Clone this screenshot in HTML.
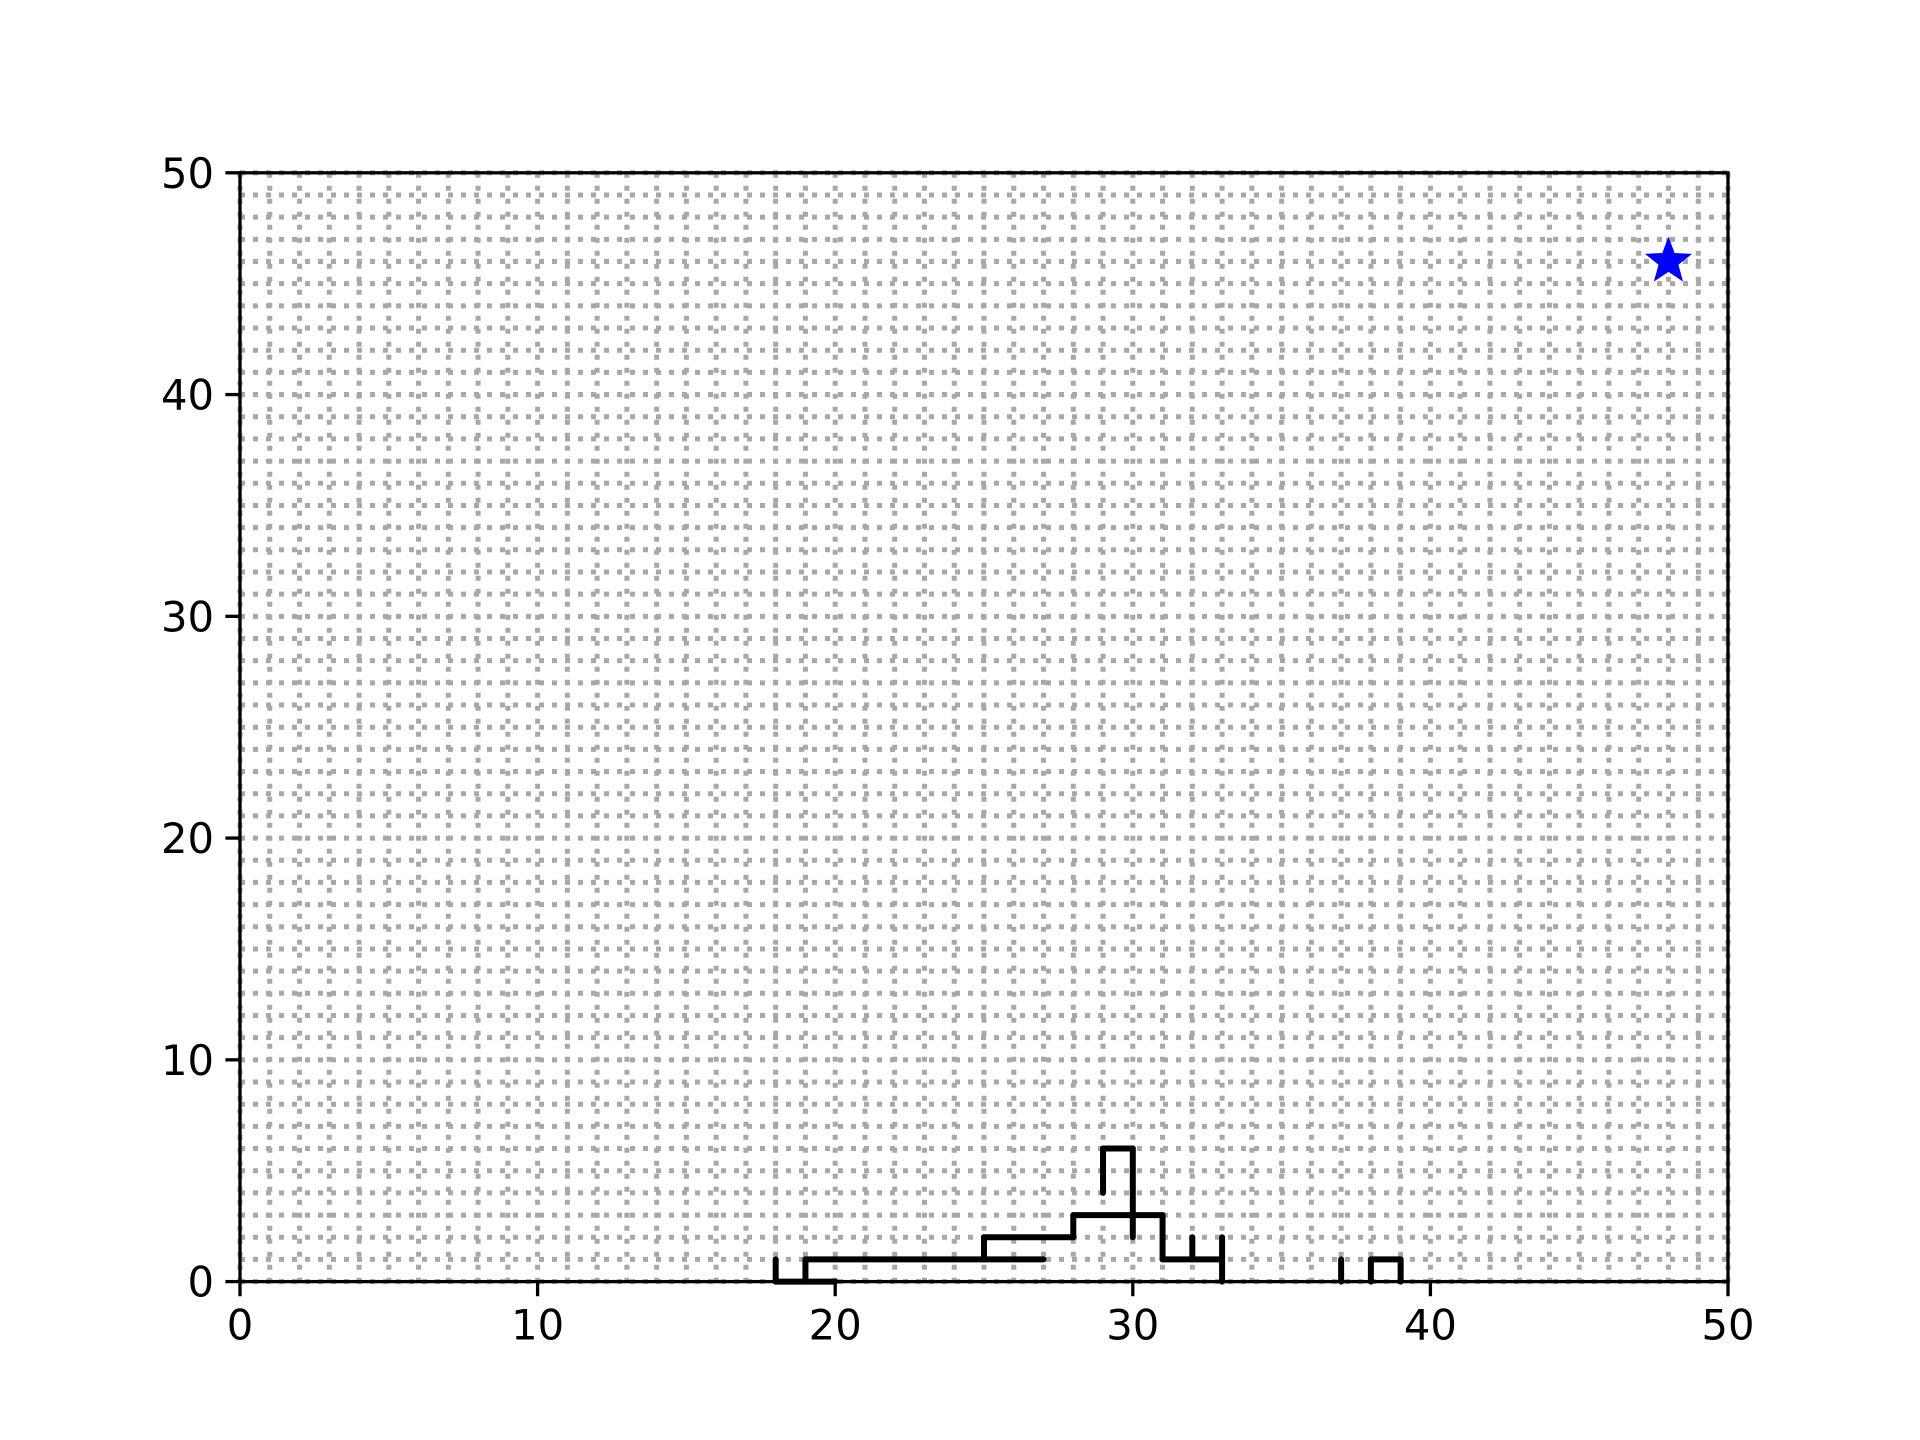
<!DOCTYPE html>
<html><head><meta charset="utf-8"><style>body{margin:0;background:#fff}svg{display:block}</style></head>
<body>
<svg id="chart" width="1920" height="1440" xmlns="http://www.w3.org/2000/svg" font-family="'DejaVu Sans','Liberation Sans',sans-serif"></svg>
<script>
const xTicks=[0,10,20,30,40,50];
const yTicks=[0,10,20,30,40,50];
const wallX1=[18,19,19,18,25,25,28,28,29,29,30,31,31,32,33,37,38,38,39];
const wallY1=[0,0,1,0,1,2,2,3,4,6,2,1,1,1,0,0,0,1,0];
const wallX2=[18,19,27,20,25,28,28,31,29,30,30,31,33,32,33,37,38,39,39];
const wallY2=[1,1,1,0,2,2,3,3,6,6,6,3,1,2,2,1,1,1,1];
const goalX=[48];
const goalY=[46];
const L=240,R=1728,T=172.8,B=1281.6;
const sx=v=>L+(v/50)*(R-L), sy=v=>B-(v/50)*(B-T);
const svg=document.getElementById('chart');const NS='http://www.w3.org/2000/svg';
function mk(t,a){const e=document.createElementNS(NS,t);for(const k in a)e.setAttribute(k,a[k]);svg.appendChild(e);return e;}
for(let i=0;i<=50;i++){
 const g=mk('line',{x1:sx(i),x2:sx(i),y1:T,y2:B,stroke:'#a8a8a8','stroke-width':5,'stroke-dasharray':'5 8'});
 
 
 const h=mk('line',{x1:L,x2:R,y1:sy(i),y2:sy(i),stroke:'#a8a8a8','stroke-width':5,'stroke-dasharray':'5 8'});
 
 
}
for(let i=0;i<wallX1.length;i++){
 const w=mk('line',{x1:sx(wallX1[i]),y1:sy(wallY1[i]),x2:sx(wallX2[i]),y2:sy(wallY2[i]),stroke:'#000','stroke-width':6,'stroke-linecap':'round'});
 
 
}
function star(cx,cy,r){let p=[];for(let k=0;k<10;k++){const rr=k%2?r*0.42:r;const a=-Math.PI/2+k*Math.PI/5;p.push((cx+rr*Math.cos(a)).toFixed(1)+','+(cy+rr*Math.sin(a)).toFixed(1));}return p.join(' ');}
for(let i=0;i<goalX.length;i++){
 const s=mk('polygon',{points:star(sx(goalX[i]),sy(goalY[i]),22),fill:'#0000ff',stroke:'#0000ff','stroke-width':2});
 
 
}
const fr=mk('rect',{x:L,y:T,width:R-L,height:B-T,fill:'none',stroke:'#000','stroke-width':3.3});


xTicks.forEach(v=>{
 const t=mk('line',{x1:sx(v),x2:sx(v),y1:B,y2:B+14.6,stroke:'#000','stroke-width':3.3});
 
 
 const l=mk('text',{x:sx(v),y:B+58,'font-size':41.7,'text-anchor':'middle',fill:'#000'});l.textContent=v;
 
 
});
yTicks.forEach(v=>{
 const t=mk('line',{x1:L-14.6,x2:L,y1:sy(v),y2:sy(v),stroke:'#000','stroke-width':3.3});
 
 
 const l=mk('text',{x:L-26,y:sy(v)+15,'font-size':41.7,'text-anchor':'end',fill:'#000'});l.textContent=v;
 
 
});
</script>
</body></html>
